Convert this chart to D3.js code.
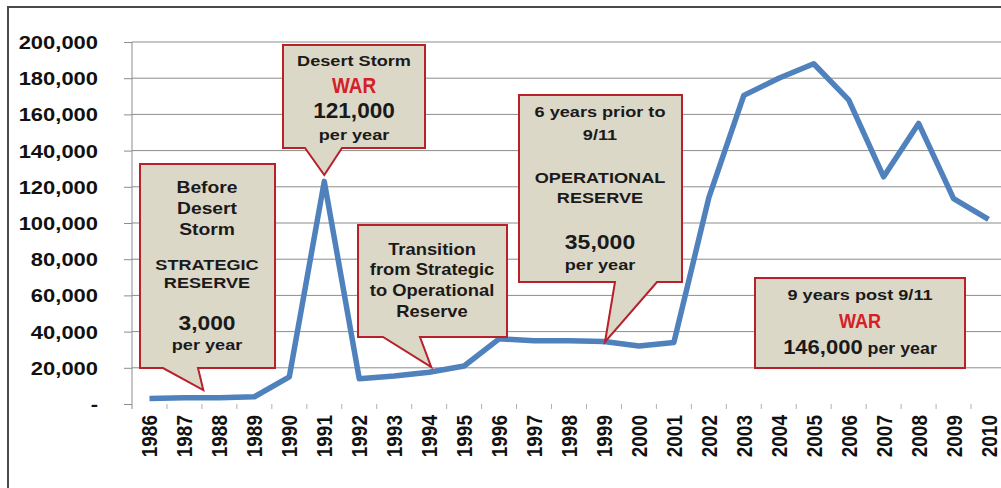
<!DOCTYPE html>
<html><head><meta charset="utf-8">
<script src="https://cdn.jsdelivr.net/npm/d3@7"></script>
<style>
html,body{margin:0;padding:0;background:#fff;}
svg{display:block;}
text{font-family:"Liberation Sans",Arial,sans-serif;font-weight:bold;}
</style></head>
<body>
<svg id="chart" width="1001" height="488"></svg>
<script>
// ---- data ----
const years = ["1986","1987","1988","1989","1990","1991","1992","1993","1994","1995","1996","1997","1998","1999","2000","2001","2002","2003","2004","2005","2006","2007","2008","2009","2010"];
const mobilized = [3000,3500,3500,4000,15000,123000,14000,15500,17500,21000,36000,35000,35000,34500,32000,34000,114000,170500,180000,188000,168000,125500,155000,113500,102000];
const yTicks = [0,20000,40000,60000,80000,100000,120000,140000,160000,180000,200000];
const yTickLabels = ["-","20,000","40,000","60,000","80,000","100,000","120,000","140,000","160,000","180,000","200,000"];

// annotation texts (tip anchored to data via year / value)
const annoTexts = [
  [["Before"],["Desert"],["Storm"],["STRATEGIC"],["RESERVE"],["3,000"],["per year"]],
  [["Desert Storm"],["WAR"],["121,000"],["per year"]],
  [["Transition"],["from Strategic"],["to Operational"],["Reserve"]],
  [["6 years prior to"],["9/11"],["OPERATIONAL"],["RESERVE"],["35,000"],["per year"]],
  [["9 years post 9/11"],["WAR"],["146,000","per year"]]
];
const annoTips = [
  {year:"1987", frac:0.54, value:7700},
  {year:"1991", frac:0.0, value:126500},
  {year:"1994", frac:0.06, value:20400},
  {year:"1999", frac:0.03, value:34250},
  null
];

// ---- layout / style ----
const SX = 1.17;
const layout = [
  {box:[140,164,275,368], ptr:[163,198], cx:207,
   rows:[[193,16.5],[214,16.5],[235,16.5],[270,15.5],[288,15.5],[330,20,null,1.14],[350,15.5]]},
  {box:[283,45,425,148], ptr:[305,342], cx:354,
   rows:[[66,15.5],[93,22,"#d42027",0.86],[118,21.5,null,1.05],[140,15.5]]},
  {box:[358,225,507,337], ptr:[383,420], cx:432,
   rows:[[255,15.7],[275,15.7],[296,15.7],[317,15.7]]},
  {box:[519,95,682,282], ptr:[615,657], cx:600,
   rows:[[117,15.5],[140,15.5],[183,15.5],[203,15.5],[249,20,null,1.15],[270,15.5]]},
  {box:[755,278,965,368], ptr:null, cx:860,
   rows:[[300,15.5],[328,21,"#d42027",0.86],[354,20,null,1.1,16.2]]}
];

const svg = d3.select("#chart");
const W = 1001, H = 488;

// outer frame
svg.append("rect").attr("x",8).attr("y",7).attr("width",W+20).attr("height",H+20)
  .attr("fill","#fff").attr("stroke","#4a4a4a").attr("stroke-width",2);

const plotLeft = 132, step = 34.96;
const x = d3.scaleBand().domain(years).range([plotLeft, plotLeft + step*years.length]).padding(0);
const y = d3.scaleLinear().domain([0,200000]).range([404,42]);
const xc = (yr, f=0) => x(yr) + x.bandwidth()/2 + f*x.bandwidth();

// gridlines
svg.append("g").selectAll("line").data(yTicks.slice(1)).join("line")
  .attr("x1",plotLeft).attr("x2",W+10)
  .attr("y1",d=>y(d)).attr("y2",d=>y(d))
  .attr("stroke","#8c8c8c").attr("stroke-width",1);

// y axis
const yAxis = d3.axisLeft(y).tickValues(yTicks).tickSize(8).tickFormat((d,i)=>yTickLabels[i]);
const gy = svg.append("g").attr("transform",`translate(${plotLeft},0)`).call(yAxis);
gy.select(".domain").attr("stroke","#8c8c8c").attr("d",`M0,${y(200000)}V409`);
gy.selectAll(".tick line").attr("stroke","#8c8c8c");
gy.selectAll(".tick text").remove();
gy.selectAll(".tick").append("text")
  .attr("transform",`translate(-34,0) scale(1.22,1)`)
  .attr("text-anchor","end").attr("dy","0.36em")
  .attr("fill","#111").style("font-size","18px")
  .text((d,i)=>yTickLabels[i]);

// x axis (ticks between categories, no line)
const gx = svg.append("g");
gx.selectAll("line").data(years.slice(1)).join("line")
  .attr("x1",d=>x(d)).attr("x2",d=>x(d)).attr("y1",404).attr("y2",409)
  .attr("stroke","#b0b0b0").attr("stroke-width",1);
gx.selectAll("text").data(years).join("text")
  .attr("transform",d=>`translate(${xc(d)+8},415) scale(1.18,1) rotate(-90)`)
  .attr("text-anchor","end").attr("fill","#111").style("font-size","19px")
  .text(d=>d);

// line
const line = d3.line().x((d,i)=>xc(years[i])).y(d=>y(d));
svg.append("path").datum(mobilized).attr("d",line)
  .attr("fill","none").attr("stroke","#4F81BD").attr("stroke-width",5.5)
  .attr("stroke-linejoin","round");

// annotations
layout.forEach((L,k)=>{
  const [x0,y0,x1,y1] = L.box;
  const tip = annoTips[k];
  let pts;
  if (tip && L.ptr) {
    const tx = xc(tip.year, tip.frac), ty = y(tip.value);
    pts = [[x0,y0],[x1,y0],[x1,y1],[L.ptr[1],y1],[tx,ty],[L.ptr[0],y1],[x0,y1]];
  } else {
    pts = [[x0,y0],[x1,y0],[x1,y1],[x0,y1]];
  }
  const g = svg.append("g");
  g.append("path").attr("d", d3.line()(pts)+"Z")
    .attr("fill","#dcd8c8").attr("stroke","#b8202a").attr("stroke-width",2)
    .attr("stroke-linejoin","miter");
  annoTexts[k].forEach((parts,j)=>{
    const r = L.rows[j];
    const sx = r[3] || SX;
    const t = g.append("text")
      .attr("transform",`translate(${L.cx},${r[0]}) scale(${sx},1)`)
      .attr("text-anchor","middle").attr("fill", r[2] || "#1a1a1a")
      .style("font-size", r[1]+"px");
    t.append("tspan").text(parts[0]);
    if (parts.length>1) t.append("tspan").style("font-size",(r[4]||16)+"px").text(" "+parts[1]);
  });
});
</script>
</body></html>
